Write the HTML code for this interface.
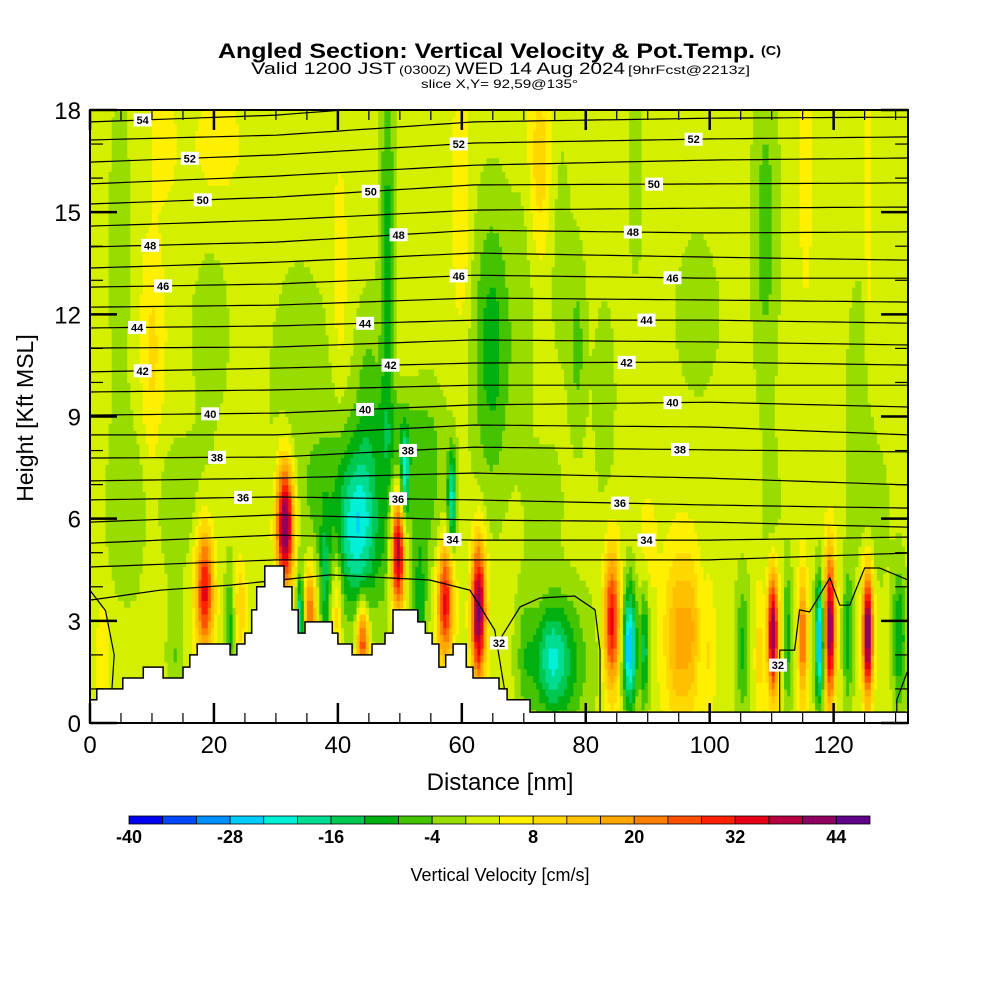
<!DOCTYPE html>
<html><head><meta charset="utf-8">
<style>
html,body{margin:0;padding:0;background:#fff;}
svg{display:block;font-family:"Liberation Sans",sans-serif;}
</style></head>
<body>
<svg id="chart" width="1000" height="1000" viewBox="0 0 1000 1000">
<defs><clipPath id="pc"><rect x="90" y="110" width="818" height="613"/></clipPath></defs>
<g id="header">
<text x="218" y="58" font-size="21" font-weight="bold" textLength="537" lengthAdjust="spacingAndGlyphs">Angled Section: Vertical Velocity &amp; Pot.Temp.</text>
<text x="761" y="55" font-size="13" font-weight="bold" textLength="20" lengthAdjust="spacingAndGlyphs">(C)</text>
<text x="251" y="74" font-size="17" textLength="145" lengthAdjust="spacingAndGlyphs">Valid 1200 JST</text>
<text x="399" y="74" font-size="12" textLength="52" lengthAdjust="spacingAndGlyphs">(0300Z)</text>
<text x="455" y="74" font-size="17" textLength="170" lengthAdjust="spacingAndGlyphs">WED 14 Aug 2024</text>
<text x="628" y="74" font-size="12" textLength="122" lengthAdjust="spacingAndGlyphs">[9hrFcst@2213z]</text>
<text x="421" y="88" font-size="12" textLength="157" lengthAdjust="spacingAndGlyphs">slice X,Y= 92,59@135°</text>
</g>
<g id="field" clip-path="url(#pc)"></g>
<g id="theta" clip-path="url(#pc)"></g>
<g id="terrain" clip-path="url(#pc)"></g>
<g id="labels"></g>
<g id="axes"></g>
<rect x="90" y="110" width="818" height="613" fill="none" stroke="#000" stroke-width="2"/>
<text x="500" y="790" font-size="24" text-anchor="middle">Distance [nm]</text>
<text transform="translate(33,418) rotate(-90)" font-size="23" text-anchor="middle">Height [Kft MSL]</text>
<g id="colorbar"></g>
<text x="500" y="881" font-size="18" text-anchor="middle">Vertical Velocity [cm/s]</text>
</svg>
<script>
// ---------- data ----------
const colorBins = ['#0000f0','#0048ff','#0090ff','#00ccff','#00f0d8','#00dc90','#00c850','#00b010','#44c400','#98dc00','#d4f000','#fff000','#ffd800','#ffc000','#ffa800','#ff8000','#ff5000','#ff2000','#e80014','#b80040','#900060','#600088'];
const colorbarTicks = [-40,-28,-16,-4,8,20,32,44];
const xTicks = [0,20,40,60,80,100,120];
const yTicks = [0,3,6,9,12,15,18];
const baseVelocity = 2;
// convective / subsidence cells (distance nm, height kft, cm/s, spread nm, spread kft)
const cellX   = [9.9,10.2,11.8,20.6,4.8,19.4,33.9,48.0,45.0,40.3,60.0,64.8,54.8,72.6,70.0,78.7,88.0,109,115.5,125.6,124,98,83,75.8,
                 73.4,110,127,90,6.5,42.7,43.2,33.9,50.8,58.4,22.6,53.2,37.9,13.7,
                 31.5,18.5,49.7,35.5,44.0,39.8,57.3,62.7,24.2,2.1,
                 75.8,74.5,84.2,87.1,89.5,95.2,97.3,105.3,110.2,112.6,115.0,117.7,119.4,122.3,125.5,130.6,108,100,70.2,
                 14,50];
const cellZ   = [7.5,11.5,17.0,17.0,14.0,11.5,10.0,13.5,10.0,13.0,15.5,11.0,7.0,16.5,12.0,11.0,16.0,14.5,16.0,15.0,9.0,12.0,9.5,14.0,
                 6.5,6.0,6.0,5.3,6.0,5.8,5.8,3.0,7.2,6.6,2.8,3.2,4.0,2.0,
                 5.8,3.9,5.0,3.3,2.4,3.5,3.6,3.3,3.4,2.0,
                 1.8,1.9,3.0,2.2,2.2,2.5,2.8,2.2,2.7,2.5,2.5,2.4,2.8,2.5,2.7,2.5,2.0,2.0,2.0,
                 6.5,8.5];
const cellAmp = [4.5,4.5,4.5,4,-4,-4,-4,-12,-6,5,6,-12,-6,9,-4,-7,-4,-8,5,5,-5,-4,-4,-3.5,
                 -5,-5,-5,5,-4,-10,-16,-22,-20,-22,-12,-12,-10,-6,
                 46,32,42,24,28,12,32,44,10,6,
                 -12,-12,32,-30,-16,16,6,-11,42,-12,24,-30,42,-12,46,-14,8,6,-6,
                 -4,-5];
const cellSX  = [1.2,1.5,1.5,3,1.5,2.5,4,0.8,1.5,0.9,1,2.2,2,1.3,1.5,1,1,1.5,0.7,0.4,1.5,3,1.5,1.5,
                 2,1,1.5,1,3,6,2,0.4,0.5,0.5,0.6,0.7,0.5,1,
                 1.0,1.0,0.8,0.7,0.7,0.6,0.9,0.8,0.7,0.7,
                 3.5,1.8,0.9,0.8,0.5,1.8,0.8,0.8,0.6,0.5,0.5,0.5,0.6,0.6,0.6,0.8,0.5,0.6,1,
                 5,4];
const cellSZ  = [3.5,2,1.2,1.2,4,2,3,4.5,2,2.5,3,3,2,2,3,2,2.5,3.5,2.5,3,3,2,2.5,3,
                 1.2,1.5,1.5,1,2,2.2,1.5,0.9,1,1,1.2,1.5,1.5,1.5,
                 1.3,1.3,1.2,1,0.8,1.2,1.2,1.4,1,1.2,
                 1.5,1.0,1.4,1.3,1.3,1.8,1.5,1.5,1.3,1.5,1.3,1.3,1.5,1.5,1.3,1.5,1.5,1.5,1.5,
                 1.5,1];
// terrain step profile
const terrainX = [0,1.1,5.3,8.6,11.8,15.0,16.1,17.3,22.6,23.7,25.0,26.1,26.9,28.2,31.3,32.6,33.6,34.7,39.1,40.0,42.3,45.5,47.6,48.9,52.9,54.1,55.2,56.3,57.4,58.6,60.7,61.8,66.0,67.3,71.0];
const terrainZ = [0.68,1.0,1.32,1.64,1.32,1.64,2.0,2.32,2.0,2.32,2.64,3.32,4.0,4.61,4.0,3.32,2.64,2.97,2.64,2.32,2.0,2.32,2.64,3.32,2.97,2.64,2.32,1.64,2.0,2.32,1.64,1.32,1.0,0.68,0.32];
// potential temperature (deg C) isentropes, heights in kft at control distances
const thetaCtrlX = [0,30,62,100,132];
const thetaLevels = [54,53,52,51,50,49,48,47,46,45,44,43,42,41,40,39,38,37,36,35,34,33];
const thetaHeights = [
 [17.65,17.85,18.29,18.35,18.38],[17.12,17.26,17.65,17.76,17.79],[16.47,16.68,17.03,17.15,17.21],
 [15.83,16.06,16.38,16.53,16.59],[15.24,15.44,15.80,15.83,15.86],[14.59,14.77,15.06,15.12,15.15],
 [13.98,14.12,14.47,14.39,14.42],[13.36,13.53,13.80,13.68,13.59],[12.80,12.89,13.15,13.06,13.06],
 [12.21,12.27,12.48,12.42,12.36],[11.60,11.66,11.83,11.83,11.74],[11.01,11.04,11.25,11.19,11.10],
 [10.31,10.42,10.57,10.60,10.51],[9.72,9.78,9.92,9.92,9.92],[9.04,9.10,9.34,9.42,9.28],
 [8.46,8.46,8.75,8.69,8.46],[7.78,7.81,8.10,8.02,7.96],[7.11,7.19,7.34,7.19,6.99],
 [6.55,6.64,6.55,6.40,6.31],[5.90,6.11,5.96,5.90,5.75],[5.28,5.52,5.37,5.37,5.46],[4.58,4.79,4.79,4.79,4.99]];
const theta32SegX = [[0,11.3,22.6,38.7,54.8,61.3,65.3,66.9],[66.1,69.4,72.6,78.2,81.5,82.3,82.3],
  [111.3,111.3,113.7,114.5,116.1,119.4,121,122.6,125,127.4,132],[132,130.2,130.2],[0,2.5,3.9,3.5]];
const theta32SegZ = [[3.61,3.9,4.05,4.35,4.2,3.9,2.73,0.97],[2.44,3.41,3.67,3.73,3.32,2.14,0.32],
  [0.32,2.14,2.14,3.32,3.26,4.26,3.46,3.46,4.55,4.55,4.2],[1.56,0.68,0.32],[3.9,3.3,2.0,0.9]];
const labelLevels = [54,52,50,48,46,44,42,40,38,36, 52,50,48,46,44,42,40,38,36,34, 52,50,48,46,44,42,40,38,36,34];
const labelX      = [8.5,16.1,18.2,9.7,11.8,7.6,8.5,19.4,20.5,24.7, 59.5,45.3,49.8,59.5,44.4,48.5,44.4,51.3,49.7,58.5, 97.4,91,87.6,94,89.8,86.6,94,95.2,85.5,89.8];
const label32X = [66.0,111.0];
const label32Z = [2.35,1.7];

// ---------- helpers ----------
const NS='http://www.w3.org/2000/svg';
const X = d => 90 + d*818/132;
const Z = k => 723 - k*613/18;
function mk(tag, attrs, parent){const e=document.createElementNS(NS,tag);for(const k in attrs)e.setAttribute(k,attrs[k]);parent.appendChild(e);return e;}
function w(x,z){let v=baseVelocity;for(let i=0;i<cellX.length;i++){const dx=(x-cellX[i])/cellSX[i],dz=(z-cellZ[i])/cellSZ[i];v+=cellAmp[i]*Math.exp(-0.5*(dx*dx+dz*dz));}return v;}
function bin(v){return Math.max(0,Math.min(colorBins.length-1,Math.floor((v+40)/4)));}

// ---------- field ----------
const field=document.getElementById('field');
const dxs=0.5, dzs=0.2, nc=Math.round(132/dxs), nr=Math.round(18/dzs);
for(let j=0;j<nr;j++){
  const z0=j*dzs, zc=z0+dzs/2;
  let start=0, cur=bin(w(dxs/2,zc));
  for(let i=1;i<=nc;i++){
    const b = i<nc ? bin(w(i*dxs+dxs/2,zc)) : -1;
    if(b!==cur){
      const r=mk('rect',{x:X(start*dxs).toFixed(2),y:Z(z0+dzs).toFixed(2),width:(X(i*dxs)-X(start*dxs)+0.6).toFixed(2),height:(Z(z0)-Z(z0+dzs)+0.6).toFixed(2),fill:colorBins[cur]},field);
      
      
      start=i; cur=b;
    }
  }
}

// ---------- isentropes ----------
const theta=document.getElementById('theta');
function thetaZ(li,x){const c=thetaCtrlX,h=thetaHeights[li];for(let k=0;k<c.length-1;k++){if(x<=c[k+1]){const t=(x-c[k])/(c[k+1]-c[k]);return h[k]+t*(h[k+1]-h[k]);}}return h[h.length-1];}
thetaLevels.forEach((lv,li)=>{
  let d='';
  for(let x=0;x<=132;x+=2){d+=(x?'L':'M')+X(x).toFixed(1)+' '+Z(thetaZ(li,x)).toFixed(1);}
  const p=mk('path',{d:d,fill:'none',stroke:'#000','stroke-width':1.2},theta);
  
  
});
theta32SegX.forEach((xs,si)=>{
  const d=xs.map((x,k)=>(k?'L':'M')+X(x).toFixed(1)+' '+Z(theta32SegZ[si][k]).toFixed(1)).join('');
  const p=mk('path',{d:d,fill:'none',stroke:'#000','stroke-width':1.2},theta);
  
  
});

// ---------- terrain ----------
const terr=document.getElementById('terrain');
let td='M'+X(0)+' 724';
terrainX.forEach((x,k)=>{const xe=k<terrainX.length-1?terrainX[k+1]:132;td+='L'+X(x).toFixed(1)+' '+Z(terrainZ[k]).toFixed(1)+'L'+X(xe).toFixed(1)+' '+Z(terrainZ[k]).toFixed(1);});
td+='L'+X(132)+' 724Z';
const tp=mk('path',{d:td,fill:'#fff',stroke:'#000','stroke-width':1.5},terr);



// ---------- contour labels ----------
const labs=document.getElementById('labels');
function addLabel(txt,cx,cy){
  const g=mk('g',{},labs);
  
  
  mk('rect',{x:cx-9,y:cy-6.5,width:18,height:13,fill:'#fff'},g);
  const t=mk('text',{x:cx,y:cy+4,'font-size':11,'font-weight':'bold','text-anchor':'middle'},g);
  t.textContent=txt;
}
labelLevels.forEach((lv,k)=>{const li=thetaLevels.indexOf(lv);addLabel(lv,X(labelX[k]),Z(thetaZ(li,labelX[k])));});
label32X.forEach((x,k)=>addLabel(32,X(x),Z(label32Z[k])));

// ---------- axes ----------
const ax=document.getElementById('axes');
for(let v=0;v<=132;v+=5){
  const major=v%20===0, L=major?20:10;
  [[723,723-L],[110,110+L]].forEach(([a,b])=>{
    const l=mk('line',{x1:X(v),x2:X(v),y1:a,y2:b,stroke:'#000','stroke-width':major?2.5:1.2},ax);
    
    
  });
}
for(let v=0;v<=18;v++){
  const major=v%3===0, L=major?27:13;
  [[90,90+L],[908,908-L]].forEach(([a,b])=>{
    const l=mk('line',{x1:a,x2:b,y1:Z(v),y2:Z(v),stroke:'#000','stroke-width':major?2.5:1.2},ax);
    
    
  });
}
xTicks.forEach(v=>{const t=mk('text',{x:X(v),y:753,'font-size':24,'text-anchor':'middle'},ax);t.textContent=v;});
yTicks.forEach(v=>{const t=mk('text',{x:81,y:Z(v)+9,'font-size':24,'text-anchor':'end'},ax);t.textContent=v;});

// ---------- colorbar ----------
const cb=document.getElementById('colorbar');
const cbX0=129, cbW=741/colorBins.length;
colorBins.forEach((c,i)=>{
  const r=mk('rect',{x:cbX0+i*cbW,y:816,width:cbW,height:8,fill:c,stroke:'#000','stroke-width':0.8},cb);
  
  
});
colorbarTicks.forEach(v=>{
  const i=(v+40)/4;
  const t=mk('text',{x:cbX0+i*cbW,y:843,'font-size':18,'font-weight':'bold','text-anchor':'middle'},cb);
  t.textContent=v;
  
  
});
</script>
</body></html>
